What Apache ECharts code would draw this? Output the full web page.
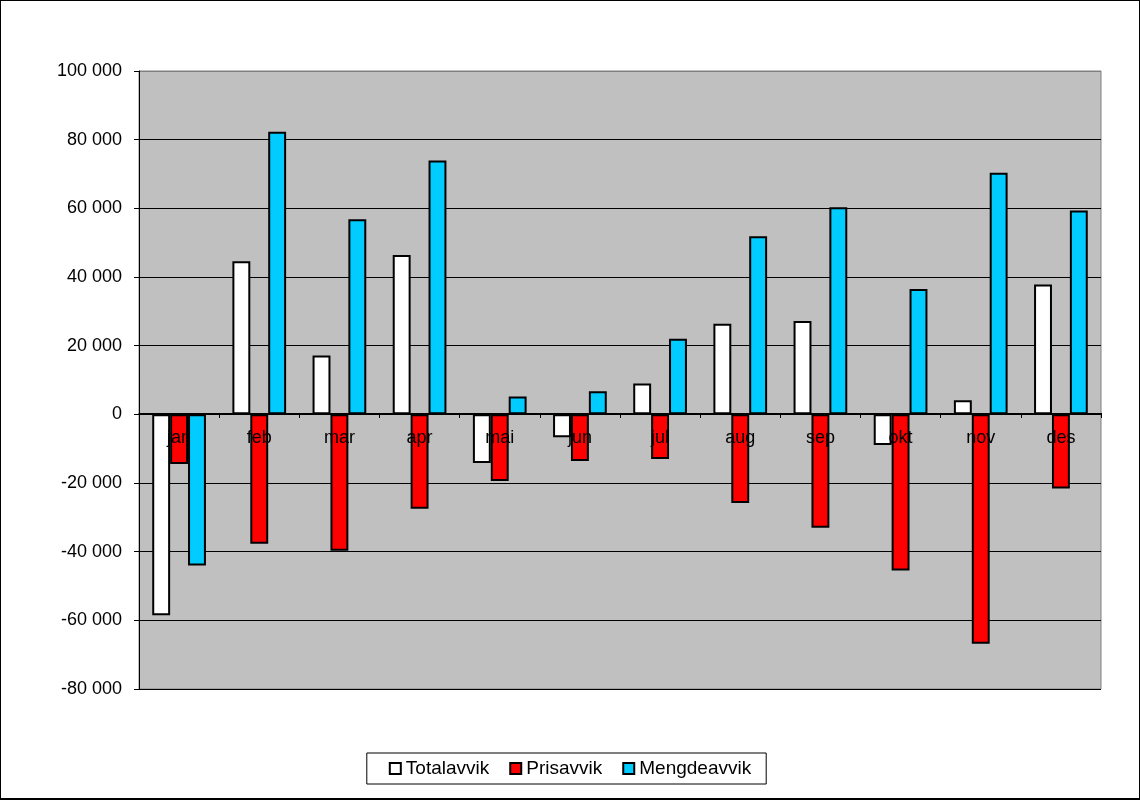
<!DOCTYPE html>
<html>
<head>
<meta charset="utf-8">
<script src="https://cdn.jsdelivr.net/npm/echarts@6/dist/echarts.min.js"></script>
<style>
html,body{margin:0;padding:0;background:#fff;}
#c{width:1140px;height:800px;box-sizing:border-box;border:1px solid #000;border-bottom:2px solid #000;}
</style>
</head>
<body>
<div id="c"></div>
<script>
const months = ['jan','feb','mar','apr','mai','jun','jul','aug','sep','okt','nov','des'];
const totalavvik = [-58500, 44600, 17100, 46400, -14200, -6700, 9000, 26400, 27200, -8900, 4100, 37800];
const prisavvik = [-14500, -37700, -39700, -27500, -19400, -13600, -13000, -25800, -33000, -45500, -66800, -21600];
const mengdeavvik = [-44000, 82300, 56800, 73900, 5200, 6700, 22000, 51900, 60300, 36500, 70400, 59400];
const seriesNames = ['Totalavvik','Prisavvik','Mengdeavvik'];
const colors = ['#FFFFFF','#FF0000','#00CCFF'];
const yMin = -80000, yMax = 100000, yStep = 20000;

const chart = echarts.init(document.getElementById('c'), null, {renderer:'canvas'});
const fmt = v => {
  const s = Math.abs(v).toString().replace(/\B(?=(\d{3})+(?!\d))/g, ' ');
  return (v < 0 ? '-' : '') + s;
};
const splitColors = [];
for (let i = 0; i < 9; i++) splitColors.push('#000000');
splitColors.push('#808080');

const gridTop = 70, gridBottom = 109, chartH = 800;
const plotH = chartH - gridTop - gridBottom;
const zeroOffset = -Math.round(plotH * (0 - yMin) / (yMax - yMin));

const mk = (name, data, i) => ({
  name, type:'bar', data,
  barGap:'0%', barCategoryGap:'33%',
  itemStyle:{color:colors[i], borderColor:'#000', borderWidth:2},
  emphasis:{disabled:true}
});
const FONT = 'Liberation Sans, Arial, sans-serif';

chart.setOption({
  animation:false,
  textStyle:{fontFamily:FONT},
  grid:{left:138, right:38, top:gridTop, bottom:gridBottom, show:true, backgroundColor:'#C0C0C0', borderColor:'#808080', borderWidth:1},
  legend:{
    data:seriesNames, left:'center', top:752, icon:'rect',
    backgroundColor:'#fff', borderColor:'#000', borderWidth:1,
    padding:[6,15,6,22], itemWidth:11, itemHeight:11, itemGap:20,
    textStyle:{fontSize:19, color:'#000', fontFamily:FONT},
    itemStyle:{borderWidth:2, borderColor:'#000'}
  },
  xAxis:{
    type:'category', data:months, position:'bottom', offset:zeroOffset, z:5,
    axisLine:{onZero:false, lineStyle:{color:'#000', width:1}},
    axisTick:{show:true, length:5, lineStyle:{color:'#000'}},
    axisLabel:{fontSize:18, color:'#000', margin:16, fontFamily:FONT},
    splitLine:{show:false}
  },
  yAxis:{
    type:'value', min:yMin, max:yMax, interval:yStep,
    axisLine:{show:true, lineStyle:{color:'#000', width:1}},
    axisTick:{show:true, length:5, lineStyle:{color:'#000'}},
    axisLabel:{fontSize:18, color:'#000', margin:17, formatter:fmt, fontFamily:FONT},
    splitLine:{show:true, lineStyle:{color:splitColors, width:1}}
  },
  series:[mk(seriesNames[0], totalavvik, 0), mk(seriesNames[1], prisavvik, 1), mk(seriesNames[2], mengdeavvik, 2)]
});
</script>
</body>
</html>
